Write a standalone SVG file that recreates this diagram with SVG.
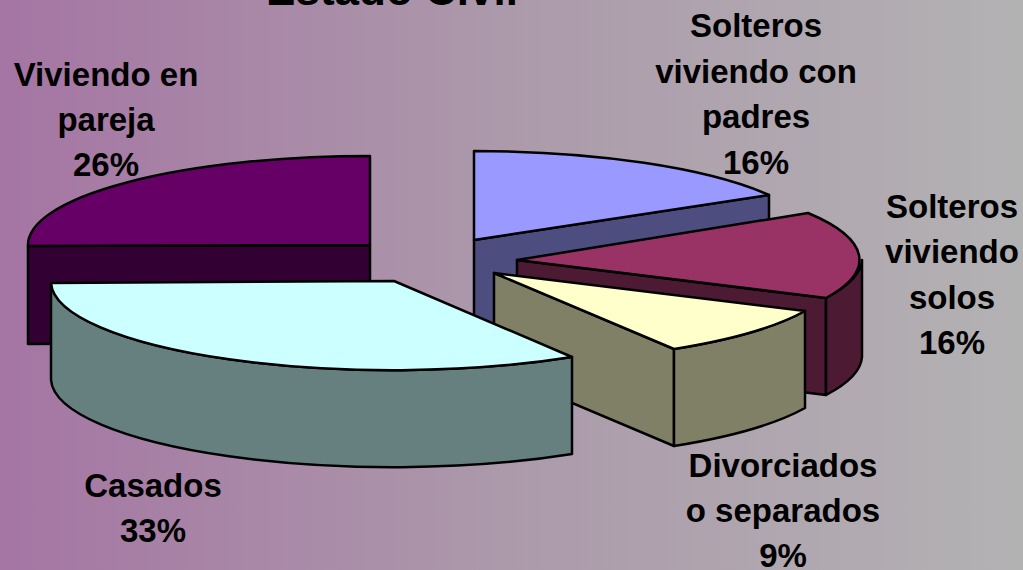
<svg xmlns="http://www.w3.org/2000/svg" width="1023" height="570" viewBox="0 0 1023 570">
  <defs>
    <linearGradient id="bg" x1="0" y1="0" x2="1" y2="0">
      <stop offset="0" stop-color="#A575A3"/>
      <stop offset="0.5" stop-color="#AC9AAB"/>
      <stop offset="1" stop-color="#B3B2B3"/>
    </linearGradient>
  </defs>
  <style>
    .s { stroke: #000; stroke-width: 2.5; stroke-linejoin: round; }
    .lbl { font-family: "Liberation Sans", Arial, sans-serif; font-weight: bold; font-size: 33px; fill: #000; text-anchor: middle; }
    .title { font-family: "Liberation Sans", Arial, sans-serif; font-weight: bold; font-size: 44px; fill: #000; text-anchor: middle; }
  </style>
  <rect x="0" y="0" width="1023" height="570" fill="url(#bg)"/>
  <text class="title" x="392" y="5">Estado Civil</text>

  <g id="slice-pareja">
    <polygon class="s" fill="#330033" points="28,246 370,245 370,342 28,344"/>
    <path class="s" fill="#660066" d="M370,245 L28,246 A342,89 0 0,1 370,156 Z"/>
    <text class="lbl" x="106" y="86">Viviendo en</text>
    <text class="lbl" x="106" y="131">pareja</text>
    <text class="lbl" x="106" y="176">26%</text>
  </g>

  <g id="slice-padres">
    <polygon class="s" fill="#4D4D80" points="474,240 769,195 769,292 474,337"/>
    <path class="s" fill="#9999FF" d="M474,240 L474,151 A342,89 0 0,1 769,195 Z"/>
    <text class="lbl" x="756" y="37">Solteros</text>
    <text class="lbl" x="756" y="82.5">viviendo con</text>
    <text class="lbl" x="756" y="128">padres</text>
    <text class="lbl" x="756" y="174">16%</text>
  </g>

  <g id="slice-solos">
    <polygon class="s" fill="#4D1A33" points="517,260 826,298 826,395 517,357"/>
    <path class="s" fill="#4D1A33" d="M862,260 A345,89 0 0,1 826,298 L826,395 A345,89 0 0,0 862,357 Z"/>
    <path class="s" fill="#993366" d="M517,260 L808,213 A345,89 0 0,1 826,298 Z"/>
    <text class="lbl" x="952" y="218">Solteros</text>
    <text class="lbl" x="952" y="263">viviendo</text>
    <text class="lbl" x="952" y="308.5">solos</text>
    <text class="lbl" x="952" y="354">16%</text>
  </g>

  <g id="slice-divorciados">
    <polygon class="s" fill="#808066" points="494,273 674,349 674,446 494,370"/>
    <path class="s" fill="#808066" d="M805,311 A342,89 0 0,1 674,349 L674,446 A342,89 0 0,0 805,408 Z"/>
    <path class="s" fill="#FFFFCC" d="M494,273 L805,311 A342,89 0 0,1 674,349 Z"/>
    <text class="lbl" x="783" y="477">Divorciados</text>
    <text class="lbl" x="783" y="522">o separados</text>
    <text class="lbl" x="783" y="567">9%</text>
  </g>

  <g id="slice-casados">
    <path class="s" fill="#668080" d="M572,357 A342,89 0 0,1 51,283 L51,380 A342,89 0 0,0 572,454 Z"/>
    <path class="s" fill="#CCFFFF" d="M394,281 L572,357 A342,89 0 0,1 51,283 Z"/>
    <text class="lbl" x="153" y="497">Casados</text>
    <text class="lbl" x="153" y="542">33%</text>
  </g>

  <g id="connectors"/>
</svg>
